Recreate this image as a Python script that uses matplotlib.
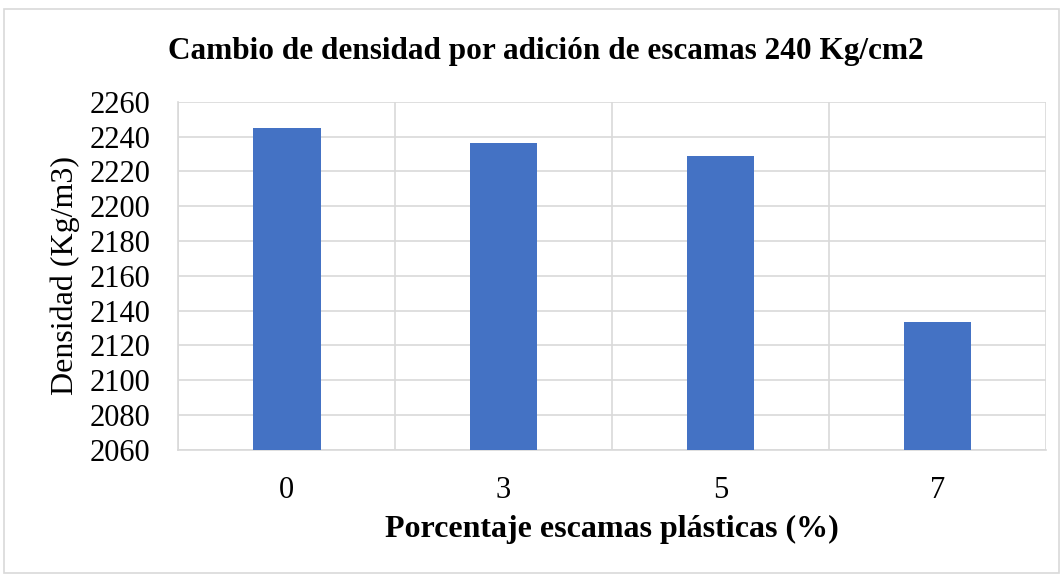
import matplotlib
matplotlib.use("Agg")
import matplotlib.pyplot as plt
from matplotlib.patches import Rectangle

plt.rcParams.update({
    "font.family": ["Liberation Serif", "DejaVu Serif"],
    "figure.dpi": 100,
})

porcentaje = ["0", "3", "5", "7"]
densidad = [2245, 2236.5, 2229, 2133.5]

fig = plt.figure(figsize=(10.63, 5.76), facecolor="white")
ax = fig.add_axes([0.1675, 0.219, 0.8165, 0.6044])

x = range(len(porcentaje))
ax.bar(x, densidad, width=0.313, color="#4472c4", zorder=3)

ax.set_ylim(2060, 2260)
ax.set_yticks(range(2060, 2261, 20))
ax.set_xlim(-0.5, len(porcentaje) - 0.5)
ax.set_xticks(list(x))
ax.set_xticklabels(porcentaje)
ax.set_xticks([i - 0.5 for i in range(len(porcentaje) + 1)], minor=True)

ax.grid(axis="y", which="major", color="#d9d9d9", lw=1.2, zorder=0)
ax.grid(axis="x", which="minor", color="#d9d9d9", lw=1.2, zorder=0)
ax.tick_params(which="both", length=0)
ax.tick_params(axis="y", labelsize=22, pad=20)
ax.tick_params(axis="x", labelsize=22, pad=19)

for s in ["top", "right"]:
    ax.spines[s].set_visible(False)
for s in ["left", "bottom"]:
    ax.spines[s].set_color("#d9d9d9")
    ax.spines[s].set_linewidth(1.2)

ax.set_ylabel("Densidad (Kg/m3)", fontsize=23, labelpad=7)
ax.set_xlabel("Porcentaje escamas plásticas (%)", fontsize=23,
              fontweight="bold", labelpad=7)
fig.text(0.513, 0.91, "Cambio de densidad por adición de escamas 240 Kg/cm2",
         ha="center", va="center", fontsize=22.5, fontweight="bold")

# outer chart frame
fig.patches.append(Rectangle((0.004, 0.005), 0.992, 0.98, transform=fig.transFigure,
                             fill=False, edgecolor="#d9d9d9", lw=1.2))

fig.savefig("out.png", dpi=100)
